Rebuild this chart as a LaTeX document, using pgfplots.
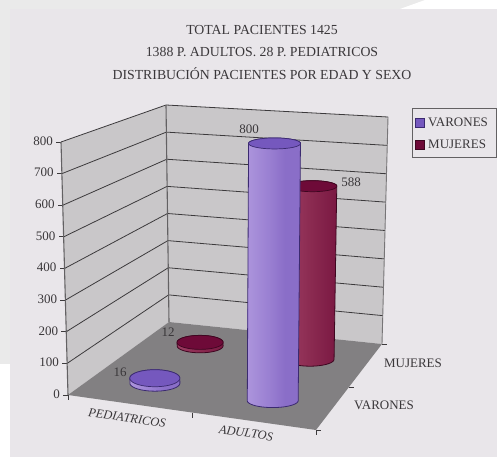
\documentclass[border=0pt]{standalone}
\usepackage{pgfplots}
\usepackage{pgfplotstable}
\usepackage{fontspec}
\setmainfont{Liberation Serif}
\pgfplotsset{compat=1.18}

\definecolor{panel}{HTML}{E9E6EA}
\definecolor{margin}{HTML}{EAEAEA}
\definecolor{wall}{HTML}{C9C7C9}
\definecolor{floorc}{HTML}{828082}
\definecolor{gridc}{HTML}{3C3A3C}
\definecolor{txt}{HTML}{3A373A}
\definecolor{vartop}{HTML}{7558BE}
\definecolor{varedge}{HTML}{3B2A70}
\definecolor{mujtop}{HTML}{6E0A38}
\definecolor{mujedge}{HTML}{3E0620}
\definecolor{varA}{HTML}{AC94DC}
\definecolor{varB}{HTML}{9A80D2}
\definecolor{varC}{HTML}{8A6EC8}
\definecolor{varD}{HTML}{6C52B4}
\definecolor{mujA}{HTML}{9C3C62}
\definecolor{mujB}{HTML}{8A2A50}
\definecolor{mujC}{HTML}{7A1842}
\definecolor{mujD}{HTML}{6A0A36}

\tikzset{lab/.style={text=txt, font=\fontsize{13}{15}\selectfont, inner sep=0pt}}

\pgfdeclarehorizontalshading{varbody}{100bp}{
  color(0bp)=(varA); color(25bp)=(varA);
  color(45bp)=(varB); color(60bp)=(varC);
  color(75bp)=(varC); color(100bp)=(varD)}
\pgfdeclarehorizontalshading{mujbody}{100bp}{
  color(0bp)=(mujA); color(25bp)=(mujA);
  color(50bp)=(mujB); color(75bp)=(mujC);
  color(100bp)=(mujD)}

% Chart data: position on the floor, value, base and top radii on the page
\pgfplotstableread{
u    v    value rxb ryb rxt ryt
0.25 0.27 16    25  8   25  8.5
0.75 0.25 800   25.5 7  26  5.5
}\varones
\pgfplotstableread{
u    v    value rxb ryb rxt ryt
0.25 0.76 12    23  7   23  7
0.75 0.75 588   24  7   24.5 5.5
}\mujeres

% Faces of the box, in box coordinates
\pgfplotstableread{
u v w
0 0 0
0 0 1
0 1 1
0 1 0
}\leftwall
\pgfplotstableread{
u v w
0 1 0
0 1 1
1 1 1
1 1 0
}\backwall
\pgfplotstableread{
u v w
0 0 0
1 0 0
1 1 0
0 1 0
}\floorface
\pgfplotstableread{
u v
0 0
0 1
1 1
}\gridpath
\pgfplotstableread{
u v w
0 1 0
0 1 1
}\cornerline
\pgfplotstableread{
u v w
0 0 0
0 0 1
}\frontline
\pgfplotstableread{
u v w
1 1 0
1 1 1
}\rightline
\pgfplotstableread{
d e
0 0
1 1
}\tickpath

% One cylinder: row, table, shading, top colour, edge colour
\newcommand\cylinder[5]{%
  \pgfplotstablegetelem{#1}{u}\of{#2}\let\cu\pgfplotsretval
  \pgfplotstablegetelem{#1}{v}\of{#2}\let\cv\pgfplotsretval
  \pgfplotstablegetelem{#1}{value}\of{#2}\let\cval\pgfplotsretval
  \pgfplotstablegetelem{#1}{rxb}\of{#2}\let\crxb\pgfplotsretval
  \pgfplotstablegetelem{#1}{ryb}\of{#2}\let\cryb\pgfplotsretval
  \pgfplotstablegetelem{#1}{rxt}\of{#2}\let\crxt\pgfplotsretval
  \pgfplotstablegetelem{#1}{ryt}\of{#2}\let\cryt\pgfplotsretval
  \pgfmathsetmacro\cxb{px(\cu,\cv,0)}
  \pgfmathsetmacro\cyb{py(\cu,\cv,0)}
  \pgfmathsetmacro\cxt{px(\cu,\cv,\cval/800)}
  \pgfmathsetmacro\cyt{py(\cu,\cv,\cval/800)}
  \addplot[shade, shading=#3, draw=#5, line width=0.8pt, domain=0:360, samples=73]
    ({(x<180||x>359) ? \cxb+\crxb*cos(x) : \cxt+\crxt*cos(x)},
     {(x<180||x>359) ? \cyb+\cryb*sin(x) : \cyt+\cryt*sin(x)});
  \addplot[fill=#4, draw=#5, line width=0.7pt, domain=0:360, samples=73]
    ({\cxt+\crxt*cos(x)},{\cyt+\cryt*sin(x)});
}

\begin{document}
\begin{tikzpicture}
\path[use as bounding box] (0,0) rectangle (497pt,457pt);
\begin{axis}[
  at={(0,0)}, anchor=south west,
  scale only axis, width=497pt, height=457pt,
  xmin=0, xmax=497, ymin=0, ymax=457, y dir=reverse,
  hide axis, clip=false, no markers,
  declare function={
    px(\u,\v,\w)=(1-\w)*(68+248*\u+101*\v-35*\u*\v)+\w*(61+259*\u+105*\v-37*\u*\v);
    py(\u,\v,\w)=(1-\w)*(395+35*\u-73*\v-13*\u*\v)+\w*(142+15*\u-37*\v-3*\u*\v);
  },
]
% page margins and panel
\fill[white] (axis cs:0,0) rectangle (axis cs:497,457);
\fill[margin] (axis cs:0,0) rectangle (axis cs:497,9);
\fill[margin] (axis cs:0,0) rectangle (axis cs:10,364);
\fill[white] (axis cs:400,9) -- (axis cs:425,0) -- (axis cs:497,0) -- (axis cs:497,9) -- cycle;
\fill[panel] (axis cs:10,9) rectangle (axis cs:497,457);

% box faces
\addplot[fill=wall, draw=none] table[x expr={px(\thisrow{u},\thisrow{v},\thisrow{w})}, y expr={py(\thisrow{u},\thisrow{v},\thisrow{w})}] {\leftwall};
\addplot[fill=wall, draw=none] table[x expr={px(\thisrow{u},\thisrow{v},\thisrow{w})}, y expr={py(\thisrow{u},\thisrow{v},\thisrow{w})}] {\backwall};
\addplot[fill=floorc, draw=none] table[x expr={px(\thisrow{u},\thisrow{v},\thisrow{w})}, y expr={py(\thisrow{u},\thisrow{v},\thisrow{w})}] {\floorface};

% value grid on both walls, ticks and tick labels
\pgfplotsinvokeforeach{100,200,300,400,500,600,700,800}{
  \addplot[gridc, line width=0.8pt] table[x expr={px(\thisrow{u},\thisrow{v},#1/800)}, y expr={py(\thisrow{u},\thisrow{v},#1/800)}] {\gridpath};
}
\pgfplotsinvokeforeach{0,100,200,300,400,500,600,700,800}{
  \addplot[gridc, line width=0.8pt] table[x expr={px(0,0,#1/800)-5*\thisrow{d}}, y expr={py(0,0,#1/800)}] {\tickpath};
  \node[lab, anchor=east] at (axis cs:{px(0,0,#1/800)-8},{py(0,0,#1/800)-1}) {#1};
}
\addplot[gridc!80, line width=1.1pt] table[x expr={px(\thisrow{u},\thisrow{v},\thisrow{w})}, y expr={py(\thisrow{u},\thisrow{v},\thisrow{w})}] {\frontline};
\addplot[gridc!80, line width=1.1pt] table[x expr={px(\thisrow{u},\thisrow{v},\thisrow{w})}, y expr={py(\thisrow{u},\thisrow{v},\thisrow{w})}] {\cornerline};
\addplot[gridc!70, line width=0.9pt] table[x expr={px(\thisrow{u},\thisrow{v},\thisrow{w})}, y expr={py(\thisrow{u},\thisrow{v},\thisrow{w})}] {\rightline};

% ticks along the front and right edges of the floor
\pgfplotsinvokeforeach{0,0.5,1}{
  \addplot[gridc, line width=0.8pt] table[x expr={px(#1,0,0)}, y expr={py(#1,0,0)+5*\thisrow{d}}] {\tickpath};
  \addplot[gridc, line width=0.8pt] table[x expr={px(1,#1,0)+5*\thisrow{d}}, y expr={py(1,#1,0)}] {\tickpath};
}

% cylinders, rear row first
\cylinder{0}{\mujeres}{mujbody}{mujtop}{mujedge}
\cylinder{0}{\varones}{varbody}{vartop}{varedge}
\cylinder{1}{\mujeres}{mujbody}{mujtop}{mujedge}
\cylinder{1}{\varones}{varbody}{vartop}{varedge}

% value labels
\node[lab] at (axis cs:120,372) {16};
\node[lab] at (axis cs:168,332) {12};
\node[lab] at (axis cs:249,129) {800};
\node[lab] at (axis cs:351,182) {588};

% category labels
\node[lab, rotate=-8.5, font=\fontsize{12.5}{14}\itshape] at (axis cs:127,418) {PEDIATRICOS};
\node[lab, rotate=-8.5, font=\fontsize{12.5}{14}\itshape] at (axis cs:246,433) {ADULTOS};
\node[lab] at (axis cs:384,405) {VARONES};
\node[lab] at (axis cs:413,363) {MUJERES};

% titles
\node[lab, font=\fontsize{13.8}{16}\selectfont] at (axis cs:262,30) {TOTAL PACIENTES 1425};
\node[lab, font=\fontsize{13.8}{16}\selectfont] at (axis cs:262,52) {1388 P. ADULTOS. 28 P. PEDIATRICOS};
\node[lab, font=\fontsize{13.8}{16}\selectfont] at (axis cs:262,74) {DISTRIBUCIÓN PACIENTES POR EDAD Y SEXO};

% legend
\draw[gridc!80, line width=1pt] (axis cs:412,109) rectangle (axis cs:496,157);
\fill[vartop] (axis cs:415,118) rectangle (axis cs:424,127);
\draw[varedge, line width=0.5pt] (axis cs:415,118) rectangle (axis cs:424,127);
\fill[mujtop] (axis cs:415,140) rectangle (axis cs:424,149);
\draw[mujedge, line width=0.5pt] (axis cs:415,140) rectangle (axis cs:424,149);
\node[lab, anchor=west] at (axis cs:428,122) {VARONES};
\node[lab, anchor=west] at (axis cs:428,144) {MUJERES};
\end{axis}
\end{tikzpicture}
\end{document}
